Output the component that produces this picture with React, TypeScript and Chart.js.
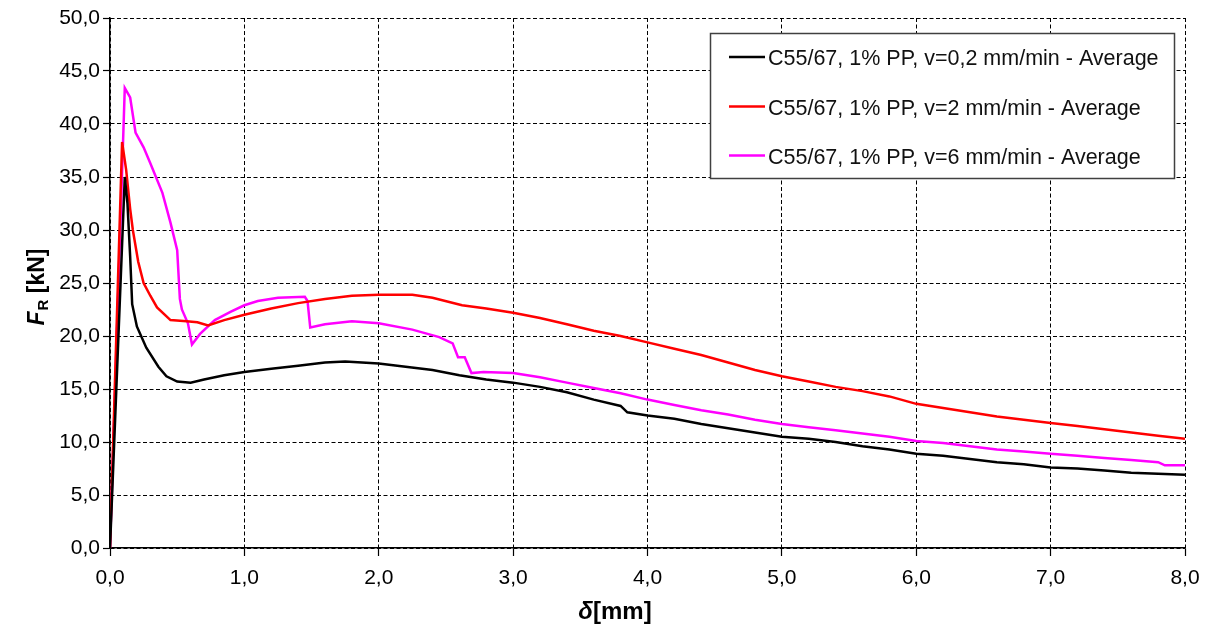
import React, { useEffect, useRef } from "react";
import { Chart, registerables } from "chart.js";

Chart.register(...registerables);

// v = 0,2 mm/min
const v02Delta = [0, 0.11, 0.13, 0.15, 0.165, 0.2, 0.27, 0.36, 0.42, 0.5, 0.6, 0.7, 0.85, 1.0, 1.2, 1.4, 1.6, 1.75, 2.0, 2.2, 2.4, 2.6, 2.8, 3.0, 3.2, 3.4, 3.6, 3.8, 3.85, 4.0, 4.2, 4.4, 4.6, 4.8, 5.0, 5.2, 5.4, 5.6, 5.8, 6.0, 6.2, 6.4, 6.6, 6.8, 7.0, 7.2, 7.4, 7.6, 7.8, 8.0];
const v02Force = [0, 35.0, 32.5, 27.5, 23.0, 20.9, 18.9, 17.1, 16.2, 15.7, 15.6, 15.9, 16.3, 16.6, 16.9, 17.2, 17.5, 17.6, 17.4, 17.1, 16.8, 16.3, 15.9, 15.6, 15.2, 14.7, 14.0, 13.4, 12.8, 12.5, 12.2, 11.7, 11.3, 10.9, 10.5, 10.3, 10.0, 9.6, 9.3, 8.9, 8.7, 8.4, 8.1, 7.9, 7.6, 7.5, 7.3, 7.1, 7.0, 6.9];

// v = 2 mm/min
const v2Delta = [0, 0.09, 0.12, 0.15, 0.17, 0.21, 0.25, 0.3, 0.35, 0.45, 0.57, 0.65, 0.73, 0.85, 1.0, 1.2, 1.4, 1.6, 1.8, 2.0, 2.25, 2.4, 2.62, 2.8, 3.0, 3.2, 3.4, 3.6, 3.8, 4.0, 4.2, 4.4, 4.6, 4.8, 5.0, 5.2, 5.4, 5.6, 5.8, 6.0, 6.2, 6.4, 6.6, 6.8, 7.0, 7.2, 7.4, 7.6, 7.8, 8.0];
const v2Force = [0, 38.3, 35.7, 32.0, 30.0, 27.0, 25.0, 23.8, 22.7, 21.5, 21.4, 21.3, 21.0, 21.5, 22.0, 22.6, 23.1, 23.5, 23.8, 23.9, 23.9, 23.6, 22.9, 22.6, 22.2, 21.7, 21.1, 20.5, 20.0, 19.4, 18.8, 18.2, 17.5, 16.8, 16.2, 15.7, 15.2, 14.8, 14.3, 13.6, 13.2, 12.8, 12.4, 12.1, 11.8, 11.5, 11.2, 10.9, 10.6, 10.3];

// v = 6 mm/min
const v6Delta = [0, 0.11, 0.15, 0.19, 0.25, 0.3, 0.39, 0.45, 0.5, 0.52, 0.535, 0.58, 0.61, 0.67, 0.78, 0.9, 1.0, 1.1, 1.25, 1.45, 1.47, 1.49, 1.6, 1.8, 2.0, 2.25, 2.45, 2.55, 2.59, 2.64, 2.69, 2.78, 3.0, 3.2, 3.4, 3.6, 3.8, 4.0, 4.2, 4.4, 4.6, 4.8, 5.0, 5.2, 5.4, 5.6, 5.8, 6.0, 6.2, 6.4, 6.6, 6.8, 7.0, 7.2, 7.4, 7.6, 7.8, 7.85, 8.0];
const v6Force = [0, 43.4, 42.5, 39.2, 37.8, 36.3, 33.5, 30.7, 28.1, 23.5, 22.5, 21.2, 19.2, 20.2, 21.5, 22.3, 22.9, 23.3, 23.6, 23.7, 23.3, 20.8, 21.1, 21.4, 21.2, 20.6, 19.9, 19.3, 18.0, 18.0, 16.5, 16.6, 16.5, 16.1, 15.6, 15.1, 14.6, 14.0, 13.5, 13.0, 12.6, 12.1, 11.7, 11.4, 11.1, 10.8, 10.5, 10.1, 9.9, 9.6, 9.3, 9.1, 8.9, 8.7, 8.5, 8.3, 8.1, 7.8, 7.8];

const seriesLabels = [
  "C55/67, 1% PP, v=0,2 mm/min - Average",
  "C55/67, 1% PP, v=2 mm/min - Average",
  "C55/67, 1% PP, v=6 mm/min - Average",
];
const seriesColors = ["#000000", "#ff0000", "#ff00ff"];

const xMin = 0, xMax = 8, xStep = 1;
const yMin = 0, yMax = 50, yStep = 5;
const xTitleSymbol = "δ";
const xTitleUnit = "[mm]";
const yTitleSymbol = "F";
const yTitleSub = "R";
const yTitleUnit = " [kN]";

const FONT = "'Liberation Sans', Arial, sans-serif";

const fmt = (v: number) => Number(v).toFixed(1).replace(".", ",");

const zip = (xs: number[], ys: number[]) => xs.map((x, i) => ({ x, y: ys[i] }));

const overlayPlugin = {
  id: "overlay",
  afterDraw(chart: any) {
    const ctx = chart.ctx as CanvasRenderingContext2D;
    // Y title
    ctx.save();
    ctx.fillStyle = "#000";
    ctx.translate(38, 287);
    ctx.rotate(-Math.PI / 2);
    ctx.textBaseline = "middle";
    ctx.textAlign = "left";
    const fMain = `italic bold 23px ${FONT}`;
    const fSub = `bold 15px ${FONT}`;
    const fUnit = `bold 23px ${FONT}`;
    ctx.font = fMain;
    const wF = ctx.measureText(yTitleSymbol).width;
    ctx.font = fSub;
    const wR = ctx.measureText(yTitleSub).width;
    ctx.font = fUnit;
    const wU = ctx.measureText(yTitleUnit).width;
    const total = wF + wR + wU + 1;
    let x = -total / 2;
    ctx.font = fMain;
    ctx.fillText(yTitleSymbol, x, 0);
    x += wF + 1;
    ctx.font = fSub;
    ctx.fillText(yTitleSub, x, 6);
    x += wR;
    ctx.font = fUnit;
    ctx.fillText(yTitleUnit, x, 0);
    ctx.restore();

    // X title
    ctx.save();
    ctx.fillStyle = "#000";
    ctx.textBaseline = "middle";
    ctx.textAlign = "left";
    const xf1 = `italic bold 24px ${FONT}`;
    const xf2 = `bold 24px ${FONT}`;
    ctx.font = xf1;
    const w1 = ctx.measureText(xTitleSymbol).width;
    ctx.font = xf2;
    const w2 = ctx.measureText(xTitleUnit).width;
    const xx = 615 - (w1 + w2) / 2;
    ctx.font = xf1;
    ctx.fillText(xTitleSymbol, xx, 612);
    ctx.font = xf2;
    ctx.fillText(xTitleUnit, xx + w1, 612);
    ctx.restore();

    // Legend
    ctx.save();
    ctx.fillStyle = "#ffffff";
    ctx.fillRect(710, 33, 464, 145);
    ctx.strokeStyle = "#404040";
    ctx.lineWidth = 1.5;
    ctx.strokeRect(710.5, 33.5, 464, 145);
    const rows = [57, 106.5, 155.5];
    ctx.font = `21.5px ${FONT}`;
    ctx.textBaseline = "alphabetic";
    ctx.textAlign = "left";
    rows.forEach((ry, i) => {
      ctx.strokeStyle = seriesColors[i];
      ctx.lineWidth = 2.5;
      ctx.beginPath();
      ctx.moveTo(729, ry);
      ctx.lineTo(765, ry);
      ctx.stroke();
      ctx.fillStyle = "#111";
      ctx.fillText(seriesLabels[i], 768, ry + 8);
    });
    ctx.restore();
  },
};

export default function App() {
  const ref = useRef<HTMLCanvasElement | null>(null);
  useEffect(() => {
    document.body.style.margin = "0";
    document.body.style.overflow = "hidden";
    const canvas = ref.current;
    if (!canvas) return;
    const datasets = [
      zip(v02Delta, v02Force),
      zip(v2Delta, v2Force),
      zip(v6Delta, v6Force),
    ].map((data, i) => ({
      label: seriesLabels[i],
      data,
      borderColor: seriesColors[i],
      backgroundColor: seriesColors[i],
      borderWidth: 2.5,
      pointRadius: 0,
      showLine: true,
      tension: 0,
      fill: false,
    }));
    const tickFont = { family: FONT, size: 21 };
    const chart = new Chart(canvas, {
      type: "scatter",
      data: { datasets },
      options: {
        animation: false,
        responsive: false,
        maintainAspectRatio: false,
        layout: { padding: { left: 0, right: 28, top: 18, bottom: 0 } },
        plugins: { legend: { display: false }, tooltip: { enabled: false } },
        scales: {
          x: {
            type: "linear",
            min: xMin,
            max: xMax,
            afterFit: (s: any) => {
              s.height = 84;
              s.paddingLeft = 0;
              s.paddingRight = 0;
            },
            ticks: {
              stepSize: xStep,
              font: tickFont,
              color: "#000",
              padding: 10,
              maxRotation: 0,
              callback: (v: any) => fmt(v),
            },
            grid: {
              color: "#000",
              lineWidth: 1,
              tickLength: 8,
              tickColor: "#000",
              tickWidth: 1.2,
              tickBorderDash: [],
            },
            border: { display: true, color: "#000", width: 1.5, dash: [4, 2.5] },
          },
          y: {
            type: "linear",
            min: yMin,
            max: yMax,
            afterFit: (s: any) => {
              s.width = 110;
              s.paddingTop = 0;
              s.paddingBottom = 0;
            },
            ticks: {
              stepSize: yStep,
              font: tickFont,
              color: "#000",
              padding: 3,
              callback: (v: any) => fmt(v),
            },
            grid: {
              color: "#000",
              lineWidth: 1,
              tickLength: 7,
              tickColor: "#000",
              tickWidth: 1.2,
              tickBorderDash: [],
            },
            border: { display: true, color: "#000", width: 1.5, dash: [4, 2.5] },
          },
        },
      },
      plugins: [overlayPlugin],
    } as any);
    return () => chart.destroy();
  }, []);
  return (
    <div style={{ width: 1213, height: 632, background: "#fff" }}>
      <canvas ref={ref} width={1213} height={632} style={{ display: "block" }} />
    </div>
  );
}
